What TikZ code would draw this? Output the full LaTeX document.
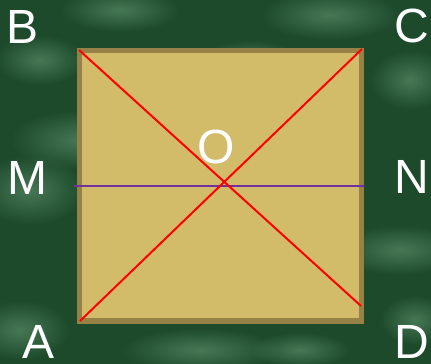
\documentclass[tikz,border=0pt]{standalone}
\usepackage{fontspec}
\setmainfont{Liberation Sans}
\usetikzlibrary{fadings}
\definecolor{boardgreen}{HTML}{1C4A2B}
\definecolor{mossgreen}{HTML}{5C8E6A}
\definecolor{sandfill}{HTML}{D2BC6A}
\definecolor{sandedge}{HTML}{968246}
\definecolor{midline}{HTML}{7030A0}
\tikzfading[name=softspot, inner color=transparent!10, outer color=transparent!100]
\tikzset{
  pointlabel/.style={text=white, inner sep=0pt, font=\fontsize{48}{48}\selectfont},
  patch/.style={fill=mossgreen, path fading=softspot, fill opacity=0.75}
}
\begin{document}
\begin{tikzpicture}[x=1pt,y=-1pt]
  \useasboundingbox (0,0) rectangle (431,364);
  % Background: dark green with soft lighter patches
  \fill[boardgreen] (0,0) rectangle (431,364);
  \foreach \px/\py/\rx/\ry in {30/190/55/35, 80/140/70/30, 120/10/60/22, 330/15/70/25, 400/250/65/25, 200/350/80/22, 20/330/50/30, 410/80/40/30, 250/60/50/20, 40/60/45/25, 300/350/50/18, 415/320/35/25}
    \fill[patch] (\px,\py) ellipse ({\rx} and {\ry});
  % Square with darker rim
  \fill[sandedge] (77,48) rectangle (364,324);
  \fill[sandfill] (82,53) rectangle (359,318);
  % Corner points of the diagonals
  \coordinate (b) at (79,50);
  \coordinate (c) at (362,49);
  \coordinate (a) at (80,321);
  \coordinate (d) at (361,306);
  \coordinate (m) at (74,186);
  \coordinate (n) at (364,186);
  \draw[midline, line width=2pt] (m) -- (n);
  \draw[red, line width=2pt] (b) -- (d);
  \draw[red, line width=2pt] (a) -- (c);
  % Labels
  \node[pointlabel] (labelB) at (23,27) {B};
  \node[pointlabel] (labelC) at (412,26) {C};
  \node[pointlabel] (labelM) at (27.5,177.5) {M};
  \node[pointlabel] (labelN) at (411.5,176.5) {N};
  \node[pointlabel] (labelA) at (39,341.5) {A};
  \node[pointlabel] (labelD) at (412,341.5) {D};
  \node[pointlabel] (labelO) at (216.5,146.5) {O};
\end{tikzpicture}
\end{document}
